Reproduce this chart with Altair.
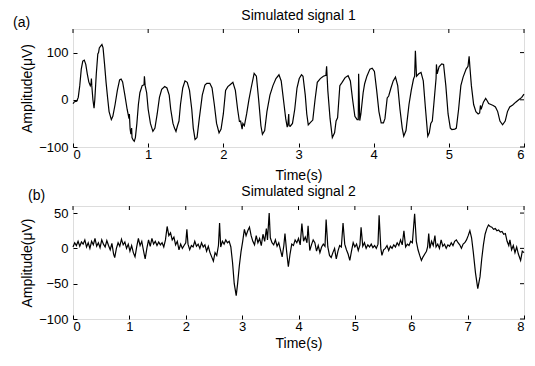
import altair as alt
import pandas as pd

FONT = "Liberation Sans"

# Simulated signal 1: (time s, amplitude uV)
sig1 = [
    (0.00, -8), (0.02, -4), (0.05, -3), (0.07, 5), (0.09, 30), (0.11, 65), (0.13, 82),
    (0.15, 84), (0.17, 75), (0.19, 55), (0.21, 38), (0.23, 30), (0.24, 35), (0.245, 45),
    (0.25, 30), (0.265, 0), (0.28, -18), (0.29, 0), (0.31, 55), (0.33, 97), (0.34, 100),
    (0.35, 110), (0.365, 113), (0.385, 117), (0.40, 110), (0.42, 75), (0.44, 37), (0.46, 5),
    (0.48, -25), (0.51, -42), (0.53, -35), (0.56, -10), (0.59, 20), (0.62, 42), (0.64, 44),
    (0.66, 38), (0.69, 10), (0.72, -20), (0.745, -40), (0.75, -30), (0.76, -62), (0.77, -73),
    (0.78, -60), (0.785, -80), (0.80, -85), (0.815, -88), (0.83, -80), (0.85, -50), (0.87, -10),
    (0.89, 15), (0.92, 30), (0.945, 32), (0.95, 50), (0.96, 30), (0.98, 15), (1.00, -20),
    (1.03, -50), (1.063, -67), (1.09, -60), (1.12, -30), (1.15, 5), (1.18, 22), (1.22, 28),
    (1.25, 25), (1.28, 10), (1.30, -20), (1.33, -50), (1.35, -60), (1.37, -67), (1.39, -55),
    (1.41, -45), (1.43, -10), (1.46, 25), (1.49, 40), (1.52, 37), (1.55, 20), (1.58, -20),
    (1.60, -60), (1.624, -84), (1.65, -80), (1.68, -40), (1.72, 10), (1.755, 31), (1.78, 35),
    (1.82, 35), (1.85, 25), (1.88, -10), (1.91, -50), (1.943, -70), (1.97, -62), (2.00, -30),
    (2.03, 20), (2.06, 28), (2.09, 32), (2.127, 37), (2.16, 20), (2.19, -20), (2.214, -46),
    (2.23, -45), (2.25, -62), (2.26, -50), (2.28, -55), (2.31, -30), (2.34, 0), (2.37, 25),
    (2.41, 56), (2.44, 50), (2.47, 0), (2.50, -55), (2.52, -73), (2.55, -65), (2.58, -25),
    (2.62, 10), (2.66, 30), (2.70, 45), (2.74, 53), (2.77, 40), (2.80, 0), (2.83, -40),
    (2.85, -58), (2.86, -50), (2.87, -30), (2.875, -55), (2.89, -56), (2.92, -50), (2.95, -20),
    (2.98, 25), (3.01, 45), (3.04, 53), (3.06, 50), (3.09, 10), (3.11, -30), (3.13, -53),
    (3.16, -48), (3.19, -43), (3.22, 0), (3.25, 37), (3.29, 45), (3.33, 50), (3.365, 52),
    (3.374, 71), (3.39, 20), (3.42, -40), (3.45, -80), (3.48, -70), (3.50, -45), (3.52, -38),
    (3.55, 30), (3.58, 37), (3.62, 47), (3.66, 51), (3.69, 40), (3.72, 0), (3.75, -35),
    (3.78, -42), (3.795, -42), (3.80, 55), (3.815, -44), (3.83, -30), (3.86, 15), (3.88, 34),
    (3.91, 50), (3.95, 65), (3.98, 67), (4.01, 60), (4.04, 20), (4.07, -25), (4.10, -49),
    (4.13, -49), (4.15, -40), (4.18, 4), (4.20, 8), (4.23, 25), (4.26, 40), (4.29, 48),
    (4.32, 30), (4.35, -20), (4.38, -60), (4.40, -77), (4.43, -65), (4.47, -10), (4.50, 20),
    (4.53, 44), (4.545, 50), (4.555, 104), (4.57, 50), (4.60, 55), (4.63, 58), (4.66, 40),
    (4.69, -20), (4.72, -77), (4.74, -70), (4.76, -50), (4.78, -45), (4.80, -10), (4.83, 45),
    (4.835, 75), (4.845, 55), (4.87, 70), (4.905, 76), (4.93, 75), (4.96, 30), (4.99, -30),
    (5.02, -60), (5.04, -63), (5.08, -62), (5.10, -60), (5.13, -20), (5.16, 30), (5.19, 48),
    (5.23, 65), (5.255, 71), (5.27, 92), (5.28, 70), (5.30, 30), (5.33, -10), (5.36, -25),
    (5.39, -30), (5.41, -28), (5.42, -12), (5.43, -20), (5.46, -5), (5.49, 3), (5.51, -2),
    (5.53, -8), (5.56, -10), (5.59, -12), (5.62, -15), (5.65, -25), (5.68, -45), (5.715, -53),
    (5.75, -45), (5.78, -25), (5.81, -15), (5.85, -11), (5.89, -5), (5.93, 0), (5.97, 5),
    (6.00, 12),
]

# Simulated signal 2: (time s, amplitude uV)
sig2 = [
    (0.00, 2), (0.03, 8), (0.06, 4), (0.09, 10), (0.12, 3), (0.15, 9), (0.18, 6), (0.21, 12),
    (0.24, 2), (0.27, 8), (0.30, 0), (0.33, 10), (0.36, 5), (0.39, 14), (0.42, 3), (0.45, 8),
    (0.48, 1), (0.51, 12), (0.54, 6), (0.57, 2), (0.60, 11), (0.63, 4), (0.66, -2), (0.69, 7),
    (0.72, -8), (0.74, -13), (0.77, 0), (0.80, 8), (0.83, 3), (0.86, 13), (0.89, 5), (0.92, 9),
    (0.95, 0), (0.98, 6), (1.01, -4), (1.04, 4), (1.07, -6), (1.10, -12), (1.13, 2), (1.16, 14),
    (1.19, 4), (1.22, 10), (1.25, -3), (1.28, -15), (1.31, 0), (1.34, 12), (1.37, 3), (1.40, 14),
    (1.43, 6), (1.46, 10), (1.49, 4), (1.52, 9), (1.55, 5), (1.58, 8), (1.61, 2), (1.64, 12),
    (1.67, 31), (1.70, 18), (1.73, 22), (1.76, 12), (1.79, 16), (1.82, 5), (1.85, 10), (1.88, -2),
    (1.91, 6), (1.94, 0), (1.97, 4), (2.00, 8), (2.02, 27), (2.04, 6), (2.07, -2), (2.10, 4),
    (2.13, 2), (2.16, 10), (2.19, 3), (2.22, 6), (2.25, 0), (2.28, 8), (2.31, 2), (2.34, 5),
    (2.37, -4), (2.40, 3), (2.43, -6), (2.46, -12), (2.49, -18), (2.52, -6), (2.55, -10), (2.58, 4),
    (2.60, 36), (2.62, 2), (2.65, 10), (2.68, 6), (2.71, 12), (2.74, 8), (2.77, 10), (2.80, 2),
    (2.83, -20), (2.86, -50), (2.895, -67), (2.92, -50), (2.95, -25), (2.98, -5), (3.01, 10),
    (3.04, 27), (3.07, 18), (3.10, 25), (3.13, 30), (3.16, 18), (3.19, 10), (3.22, 5), (3.25, 18),
    (3.28, 8), (3.31, 14), (3.34, 4), (3.37, 20), (3.40, 10), (3.43, 28), (3.45, 12), (3.48, 50),
    (3.50, 15), (3.53, 8), (3.56, 5), (3.59, 12), (3.62, 3), (3.65, 8), (3.68, -2), (3.71, -12),
    (3.74, 4), (3.76, 21), (3.79, -5), (3.82, -26), (3.85, -8), (3.88, 6), (3.91, 4), (3.94, 12),
    (3.97, 8), (4.00, 14), (4.03, 5), (4.06, 35), (4.09, 10), (4.12, 16), (4.15, 8), (4.17, 32),
    (4.20, -3), (4.23, 5), (4.26, 12), (4.29, 8), (4.32, -4), (4.35, 4), (4.38, -6), (4.41, 2),
    (4.44, 6), (4.47, 3), (4.49, 41), (4.52, 2), (4.55, -10), (4.58, -13), (4.61, -6), (4.64, 0),
    (4.67, -15), (4.70, -4), (4.73, 4), (4.76, 2), (4.79, 36), (4.82, 6), (4.85, -2), (4.88, -8),
    (4.91, -17), (4.94, -4), (4.97, 8), (5.00, 2), (5.03, 6), (5.06, -3), (5.09, 5), (5.11, 30),
    (5.14, 3), (5.17, 8), (5.20, 0), (5.23, 5), (5.26, 2), (5.29, 6), (5.32, 1), (5.35, 4),
    (5.38, 0), (5.41, 6), (5.43, 47), (5.46, 0), (5.48, -10), (5.51, -2), (5.54, 0), (5.57, 4),
    (5.60, -3), (5.63, 3), (5.66, 0), (5.69, 5), (5.72, 2), (5.75, 8), (5.78, 4), (5.81, 12),
    (5.84, 5), (5.87, 25), (5.90, 2), (5.93, 6), (5.96, 4), (5.99, 10), (6.02, 8), (6.06, 49),
    (6.09, 10), (6.12, -2), (6.15, -10), (6.18, -17), (6.21, -12), (6.24, -8), (6.27, -4),
    (6.29, 2), (6.31, 21), (6.33, 0), (6.36, 10), (6.39, 4), (6.42, 18), (6.44, 2), (6.47, 6),
    (6.50, 0), (6.53, 12), (6.56, 3), (6.59, 6), (6.62, 0), (6.65, 5), (6.68, 3), (6.71, 8),
    (6.74, 4), (6.77, 10), (6.80, 12), (6.83, 8), (6.86, 5), (6.89, 0), (6.92, 6), (6.95, 8),
    (6.98, 12), (7.01, 18), (7.04, 25), (7.07, 15), (7.10, -5), (7.14, -35), (7.18, -57),
    (7.22, -40), (7.25, -15), (7.28, 5), (7.31, 20), (7.34, 28), (7.37, 33), (7.40, 31),
    (7.43, 30), (7.46, 27), (7.49, 28), (7.52, 25), (7.55, 26), (7.58, 23), (7.61, 24),
    (7.64, 20), (7.67, 21), (7.70, 10), (7.73, 4), (7.75, 12), (7.78, -2), (7.81, 4), (7.84, -6),
    (7.87, 2), (7.90, -8), (7.94, -17), (7.97, -4), (8.00, -6),
]

x1_ticks = [0, 1, 2, 3, 4, 5, 6]
y1_ticks = [-100, 0, 100]
x2_ticks = [0, 1, 2, 3, 4, 5, 6, 7, 8]
y2_ticks = [-100, -50, 0, 50]

W = 451
TICK = 4


def panel(pairs, xdom, ydom, xticks, yticks, title, tag, tag_x, tag_y, title_y, h, xtp):
    df = pd.DataFrame(pairs, columns=["t", "v"])
    xs = alt.Scale(domain=xdom, nice=False, zero=False)
    ys = alt.Scale(domain=ydom, nice=False, zero=False)
    common = dict(offset=-TICK, tickSize=TICK, domain=False, grid=False, tickColor="black",
                  labelColor="black", labelFont=FONT, labelFontSize=13,
                  titleFont=FONT, titleFontSize=14, titleFontWeight="normal",
                  titleColor="black")
    x_axis = alt.Axis(values=xticks, title="Time(s)", labelPadding=1, titlePadding=xtp,
                      **common)
    y_axis = alt.Axis(values=yticks, title="Amplitude(μV)", labelPadding=5, titlePadding=4,
                      **common)
    line = alt.Chart(df).mark_line(color="black", strokeWidth=1.2).encode(
        x=alt.X("t:Q", scale=xs, axis=x_axis),
        y=alt.Y("v:Q", scale=ys, axis=y_axis),
    )
    # inward ticks on the top and right edges of the frame
    top_ticks = alt.Chart(pd.DataFrame({"t": xticks})).mark_rule(
        color="black", strokeWidth=1
    ).encode(x=alt.X("t:Q", scale=xs, axis=x_axis),
             y=alt.value(0), y2=alt.value(TICK))
    right_ticks = alt.Chart(pd.DataFrame({"v": yticks})).mark_rule(
        color="black", strokeWidth=1
    ).encode(y=alt.Y("v:Q", scale=ys, axis=y_axis),
             x=alt.value(W - TICK), x2=alt.value(W))
    tag_mark = alt.Chart(pd.DataFrame({"k": [tag]})).mark_text(
        align="left", baseline="alphabetic", font=FONT, fontSize=14, color="black"
    ).encode(text="k:N", x=alt.value(tag_x), y=alt.value(tag_y))
    title_mark = alt.Chart(pd.DataFrame({"k": [title]})).mark_text(
        align="center", baseline="alphabetic", font=FONT, fontSize=14, color="black"
    ).encode(text="k:N", x=alt.value(W / 2), y=alt.value(title_y))
    return alt.layer(line, top_ticks, right_ticks, tag_mark, title_mark).properties(
        width=W, height=h)


top = panel(sig1, [0, 6], [-100, 150], x1_ticks, y1_ticks, "Simulated signal 1",
            "(a)", -60, -2, -9, 118, 7)
bottom = panel(sig2, [0, 8], [-100, 60], x2_ticks, y2_ticks, "Simulated signal 2",
               "(b)", -45, -6, -10, 113, 3)

chart = alt.vconcat(top, bottom, spacing=1).properties(
    padding={"left": 4, "top": 0, "right": 0, "bottom": 0}
).configure_view(stroke="black", strokeWidth=1).configure(background="white")

chart.save("out.html", embed_options={"renderer": "svg", "actions": False})
